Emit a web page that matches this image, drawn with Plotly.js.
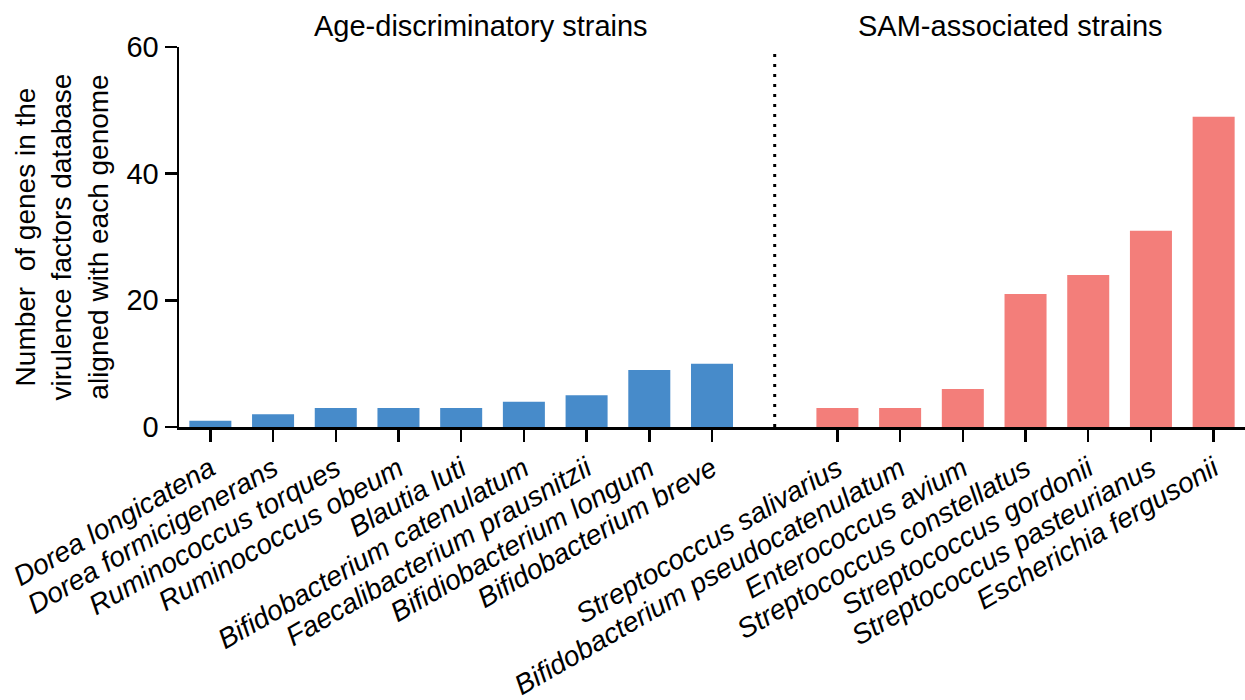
<!DOCTYPE html>
<html>
<head>
<meta charset="utf-8">
<script src="https://cdn.plot.ly/plotly-3.0.1.min.js"></script>
<style>html,body{margin:0;padding:0;background:#fff;}#chart{width:1245px;height:700px;}</style>
</head>
<body>
<div id="chart"></div>
<script>
// Age-discriminatory strains (blue)
const ageStrains = ["Dorea longicatena", "Dorea formicigenerans", "Ruminococcus torques", "Ruminococcus obeum", "Blautia luti", "Bifidobacterium catenulatum", "Faecalibacterium prausnitzii", "Bifidiobacterium longum", "Bifidobacterium breve"];
const ageValues = [1, 2, 3, 3, 3, 4, 5, 9, 10];
// SAM-associated strains (red)
const samStrains = ["Streptococcus salivarius", "Bifidobacterium pseudocatenulatum", "Enterococcus avium", "Streptococcus constellatus", "Streptococcus gordonii", "Streptococcus pasteurianus", "Escherichia fergusonii"];
const samValues = [3, 3, 6, 21, 24, 31, 49];
const groupTitles = ["Age-discriminatory strains", "SAM-associated strains"];
const yTicks = [0, 20, 40, 60];
const yTitle = "Number  of genes in the<br>virulence factors database<br>aligned with each genome";

// slot positions: one empty slot between the two groups
const ageX = ageStrains.map((_, i) => i);
const gapX = ageStrains.length;
const samX = samStrains.map((_, i) => gapX + 1 + i);

const FONT = "Liberation Sans, Arial, sans-serif";
const tickLabels = ageStrains.concat(samStrains).map(s => "<i>" + s + "</i>");

const traces = [
  {type: "bar", x: ageX, y: ageValues, width: 0.67, marker: {color: "#478BCA", line: {width: 0}}, hoverinfo: "y", name: groupTitles[0]},
  {type: "bar", x: samX, y: samValues, width: 0.67, marker: {color: "#F37E7A", line: {width: 0}}, hoverinfo: "y", name: groupTitles[1]}
];

const layout = {
  width: 1245, height: 700,
  margin: {l: 179, r: 0, t: 47, b: 273},
  paper_bgcolor: "#fff", plot_bgcolor: "#fff",
  showlegend: false,
  font: {family: FONT, color: "#000", size: 28},
  xaxis: {
    range: [-0.5, ageStrains.length + samStrains.length + 0.5],
    tickmode: "array",
    tickvals: ageX.concat(samX),
    ticktext: tickLabels,
    tickangle: -30,
    tickfont: {family: FONT, size: 28, color: "#000"},
    ticks: "outside", ticklen: 12, tickwidth: 2.5, tickcolor: "#000",
    showline: true, linecolor: "#000", linewidth: 2.5,
    showgrid: false, zeroline: false, fixedrange: true
  },
  yaxis: {
    range: [0, 60],
    tickmode: "array", tickvals: yTicks,
    tickfont: {family: FONT, size: 29, color: "#000"},
    ticks: "outside", ticklen: 12, tickwidth: 2.5, tickcolor: "#000",
    showline: true, linecolor: "#000", linewidth: 2.5,
    showgrid: false, zeroline: false, fixedrange: true,
    title: {text: yTitle, font: {family: FONT, size: 28, color: "#000"}, standoff: 10}
  },
  shapes: [
    {type: "line", xref: "x", yref: "y", x0: gapX, x1: gapX, y0: 0, y1: 60,
     line: {color: "#000", width: 3, dash: "3px,7px"}}
  ],
  annotations: [
    {xref: "x", yref: "paper", x: 4.32, y: 1.055, yanchor: "middle", xanchor: "center", showarrow: false,
     text: groupTitles[0], font: {family: FONT, size: 29, color: "#000"}},
    {xref: "x", yref: "paper", x: 12.76, y: 1.055, yanchor: "middle", xanchor: "center", showarrow: false,
     text: groupTitles[1], font: {family: FONT, size: 29, color: "#000"}}
  ]
};

Plotly.newPlot("chart", traces, layout, {displayModeBar: false, staticPlot: true});
</script>
</body>
</html>
